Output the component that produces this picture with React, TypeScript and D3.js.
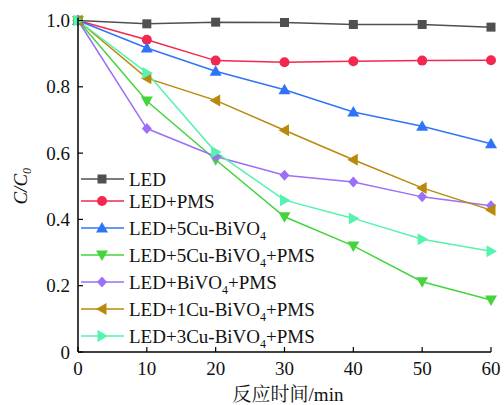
import React from "react";
import * as d3 from "d3";

const times = [0, 10, 20, 30, 40, 50, 60];
const xTicks = [0, 10, 20, 30, 40, 50, 60];
const yTicks = [0, 0.2, 0.4, 0.6, 0.8, 1.0];

const ledValues = [1.0, 0.99, 0.995, 0.994, 0.988, 0.988, 0.98];
const ledPmsValues = [1.0, 0.942, 0.879, 0.874, 0.877, 0.879, 0.88];
const led5CuValues = [1.0, 0.917, 0.847, 0.791, 0.724, 0.681, 0.628];
const led5CuPmsValues = [1.0, 0.757, 0.58, 0.408, 0.32, 0.212, 0.157];
const ledBiVO4PmsValues = [1.0, 0.674, 0.59, 0.533, 0.513, 0.468, 0.441];
const led1CuPmsValues = [1.0, 0.826, 0.759, 0.669, 0.58, 0.495, 0.428];
const led3CuPmsValues = [1.0, 0.842, 0.603, 0.458, 0.403, 0.34, 0.304];

type Series = {
  pre: string;
  sub?: string;
  post?: string;
  values: number[];
  color: string;
  marker: string;
};

const series: Series[] = [
  { pre: "LED", values: ledValues, color: "#505050", marker: "square" },
  { pre: "LED+PMS", values: ledPmsValues, color: "#f2284e", marker: "circle" },
  { pre: "LED+5Cu-BiVO", sub: "4", post: "", values: led5CuValues, color: "#2f74f6", marker: "up" },
  { pre: "LED+5Cu-BiVO", sub: "4", post: "+PMS", values: led5CuPmsValues, color: "#44d43c", marker: "down" },
  { pre: "LED+BiVO", sub: "4", post: "+PMS", values: ledBiVO4PmsValues, color: "#9b70f7", marker: "diamond" },
  { pre: "LED+1Cu-BiVO", sub: "4", post: "+PMS", values: led1CuPmsValues, color: "#b88a0b", marker: "left" },
  { pre: "LED+3Cu-BiVO", sub: "4", post: "+PMS", values: led3CuPmsValues, color: "#55f3ad", marker: "right" },
];

const FONT = "'Liberation Serif', 'Times New Roman', serif";
const CJK = "'Liberation Serif', 'Noto Serif CJK SC', 'Noto Sans CJK SC', serif";
const FS = 19;

function Marker({ kind, x, y, color }: { kind: string; x: number; y: number; color: string }) {
  const s = 5.5;
  switch (kind) {
    case "square":
      return <rect x={x - 4.5} y={y - 4.5} width={9} height={9} fill={color} />;
    case "circle":
      return <circle cx={x} cy={y} r={5} fill={color} />;
    case "up":
      return <path d={`M${x},${y - s - 0.5}L${x + s + 0.5},${y + s - 1}L${x - s - 0.5},${y + s - 1}Z`} fill={color} />;
    case "down":
      return <path d={`M${x},${y + s + 0.5}L${x + s + 0.5},${y - s + 1}L${x - s - 0.5},${y - s + 1}Z`} fill={color} />;
    case "left":
      return <path d={`M${x - s - 0.5},${y}L${x + s - 1},${y - s - 0.5}L${x + s - 1},${y + s + 0.5}Z`} fill={color} />;
    case "right":
      return <path d={`M${x + s + 0.5},${y}L${x - s + 1},${y - s - 0.5}L${x - s + 1},${y + s + 0.5}Z`} fill={color} />;
    case "diamond":
      return <path d={`M${x},${y - 5.5}L${x + 5},${y}L${x},${y + 5.5}L${x - 5},${y}Z`} fill={color} />;
    default:
      return null;
  }
}

export default function App() {
  const W = 504;
  const H = 405;
  const x0 = 78, x1 = 491;
  const y0 = 352, y1 = 20.5;
  const x = d3.scaleLinear().domain([0, 60]).range([x0, x1]);
  const y = d3.scaleLinear().domain([0, 1]).range([y0, y1]);
  const line = d3
    .line<number>()
    .x((_, i) => x(times[i]))
    .y((d) => y(d));

  const legendYs: number[] = [];
  let ly = 179;
  series.forEach((s, i) => {
    if (i > 0) ly += s.sub ? 27 : 22;
    legendYs.push(ly);
  });

  return (
    <svg width={W} height={H} style={{ position: "absolute", left: 0, top: 0 }} fontFamily={FONT}>
      <rect width={W} height={H} fill="#fff" />
      {series.map((s, i) => (
        <path key={"l" + i} d={line(s.values) || ""} fill="none" stroke={s.color} strokeWidth={1.5} />
      ))}
      {series.map((s, i) => (
        <g key={"m" + i}>
          {s.values.map((v, j) => (
            <Marker key={j} kind={s.marker} x={x(times[j])} y={y(v)} color={s.color} />
          ))}
        </g>
      ))}
      <line x1={x0} y1={y0} x2={x1} y2={y0} stroke="#000" strokeWidth={1.5} />
      <line x1={x0} y1={y0} x2={x0} y2={y1 - 3} stroke="#000" strokeWidth={1.5} />
      {xTicks.map((t) => (
        <g key={"xt" + t}>
          <line x1={x(t)} x2={x(t)} y1={y0} y2={y0 - 5} stroke="#000" strokeWidth={1.2} />
          <text x={x(t)} y={y0 + 23} fontSize={FS} textAnchor="middle" fill="#111">
            {t}
          </text>
        </g>
      ))}
      {yTicks.map((t) => (
        <g key={"yt" + t}>
          <line x1={x0} x2={x0 + 5} y1={y(t)} y2={y(t)} stroke="#000" strokeWidth={1.2} />
          <text x={x0 - 8} y={y(t) + 6.5} fontSize={FS} textAnchor="end" fill="#111">
            {t === 0 ? "0" : d3.format(".1f")(t)}
          </text>
        </g>
      ))}
      <text
        transform={`translate(27,${(y0 + y1) / 2}) rotate(-90)`}
        fontSize={FS}
        textAnchor="middle"
        fontStyle="italic"
        fill="#111"
      >
        C/C
        <tspan fontSize={12} dy={4}>0</tspan>
      </text>
      <text x={288} y={401} fontSize={FS} textAnchor="middle" fontFamily={CJK} fill="#111">
        反应时间/min
      </text>
      {series.map((s, i) => {
        const yy = legendYs[i];
        return (
          <g key={"lg" + i}>
            <line x1={81} x2={124} y1={yy} y2={yy} stroke={s.color} strokeWidth={1.5} />
            <Marker kind={s.marker} x={102} y={yy} color={s.color} />
            <text x={129} y={yy + 6.5} fontSize={FS} fill="#111">
              {s.pre}
              {s.sub ? (
                <tspan fontSize={12} dy={5}>
                  {s.sub}
                </tspan>
              ) : null}
              {s.sub && s.post ? <tspan dy={-5}>{s.post}</tspan> : null}
            </text>
          </g>
        );
      })}
    </svg>
  );
}
